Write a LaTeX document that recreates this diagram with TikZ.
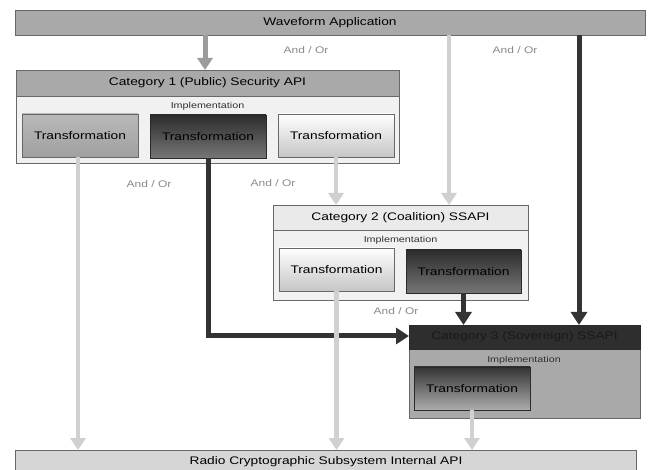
\documentclass[tikz,border=0pt]{standalone}
\usepackage{fontspec}
\setmainfont{Liberation Sans}[FakeStretch=1.25]
\usetikzlibrary{arrows.meta}

\definecolor{edge}{HTML}{686868}
\definecolor{midfill}{HTML}{A9A9A9}
\definecolor{paleback}{HTML}{F1F1F1}
\definecolor{paletop}{HTML}{EAEAEA}
\definecolor{rcsfill}{HTML}{D6D6D6}
\definecolor{darkhead}{HTML}{2E2E2E}
\definecolor{arrowmid}{HTML}{9C9C9C}
\definecolor{arrowlight}{HTML}{D0D0D0}
\definecolor{arrowdark}{HTML}{333333}
\definecolor{labelgray}{HTML}{8A8A8A}

\tikzset{
  sz/.style 2 args={minimum width=#1pt, minimum height=#2pt},
  panel/.style={draw=edge, line width=0.9pt, inner sep=0pt, outer sep=0pt,
    font=\fontsize{11}{13}\selectfont},
  tmid/.style={panel, top color=HTML-B9B9B9, bottom color=HTML-A0A0A0},
  tdark/.style={panel, draw=HTML-2A2A2A, top color=HTML-2C2C2C, bottom color=HTML-767676},
  tlight/.style={panel, top color=white, bottom color=HTML-C6C6C6},
  tdeep/.style={panel, draw=HTML-2A2A2A, top color=HTML-343434, bottom color=HTML-ADADAD},
  impl/.style={font=\fontsize{8.6}{10}\selectfont, text=HTML-303030},
  andor/.style={font=\fontsize{9.6}{11}\selectfont, text=labelgray},
  flowmid/.style={draw=arrowmid, line width=5pt,
    -{Triangle[length=12pt,width=15pt]}},
  flowlight/.style={draw=arrowlight, line width=4.5pt,
    -{Triangle[length=12pt,width=15pt]}},
  flowdark/.style={draw=arrowdark, line width=5pt,
    -{Triangle[length=13pt,width=16pt]}},
}
\colorlet{HTML-B9B9B9}{black!27.5}
\colorlet{HTML-A0A0A0}{black!37.3}
\colorlet{HTML-2A2A2A}{black!83.5}
\colorlet{HTML-2C2C2C}{black!82.7}
\colorlet{HTML-767676}{black!53.7}
\colorlet{HTML-C6C6C6}{black!22.4}
\colorlet{HTML-343434}{black!79.6}
\colorlet{HTML-ADADAD}{black!32.2}
\colorlet{HTML-303030}{black!81.2}

\begin{document}
\begin{tikzpicture}[x=1pt,y=-1pt]
\useasboundingbox (0,0) rectangle (651,470);
\fill[white] (0,0) rectangle (651,470);

% top and bottom layers
\node[panel, fill=midfill, sz={630}{25}] (wa) at (330,22.5) {Waveform Application};
\node[panel, fill=rcsfill, sz={621}{24}] (rcs) at (326,462) {Radio Cryptographic Subsystem Internal API};

% Category 1
\node[panel, fill=paleback, sz={383}{67}] (c1b) at (207.5,129.5) {};
\node[panel, fill=midfill, sz={383}{26}] (c1h) at (207.5,83) {Category 1 (Public) Security API};
\node[impl] (c1i) at (207.5,106) {Implementation};
\node[tmid, sz={116}{43}] (t1) at (80,135.5) {Transformation};
\node[tdark, sz={116}{43}] (t2) at (208,136.5) {Transformation};
\node[tlight, sz={116}{43}] (t3) at (336,135.5) {Transformation};

% Category 2
\node[panel, fill=paleback, sz={255}{70}] (c2b) at (400.5,265) {};
\node[panel, fill=paletop, sz={255}{25}] (c2h) at (400.5,217.5) {Category 2 (Coalition) SSAPI};
\node[impl] (c2i) at (400.5,240) {Implementation};
\node[tlight, sz={115}{43}] (t4) at (336.5,269.5) {Transformation};
\node[tdark, sz={115}{43}] (t5) at (463.5,271.5) {Transformation};

% Category 3
\node[panel, fill=midfill, sz={231}{69}] (c3b) at (524.5,383.5) {};
\node[panel, draw=HTML-2A2A2A, fill=darkhead, text=black!90, sz={231}{24}] (c3h) at (524.5,337) {Category 3 (Sovereign) SSAPI};
\node[impl] (c3i) at (524,360) {Implementation};
\node[tdeep, sz={116}{43}] (t6) at (472,388.5) {Transformation};

% free ends on the horizontal and vertical runs
\coordinate (bend) at (208,336);

% connectors
\draw[flowmid] (wa.south -| 205,0) -- (c1h.north -| 205,0);
\draw[flowlight] (wa.south -| 449,0) -- (c2h.north -| 449,0);
\draw[flowdark] (wa.south -| 579,0) -- (c3h.north -| 579,0);

\draw[flowlight] (t1.south -| 78,0) -- (rcs.north -| 78,0);
\draw[flowlight] (t3.south) -- (c2h.north -| t3.south);
\draw[flowdark] (t2.south) |- (bend) -- (c3h.west |- bend);

\draw[flowlight] (t4.south) -- (rcs.north -| t4.south);
\draw[flowdark] (t5.south) -- (c3h.north -| t5.south);
\draw[flowlight] (t6.south) -- (rcs.north -| t6.south);

% alternative labels
\node[andor] (ao1) at (306,50) {And / Or};
\node[andor] (ao2) at (515,50) {And / Or};
\node[andor] (ao3) at (149,184) {And / Or};
\node[andor] (ao4) at (273,183) {And / Or};
\node[andor] (ao5) at (396,311) {And / Or};
\end{tikzpicture}
\end{document}
